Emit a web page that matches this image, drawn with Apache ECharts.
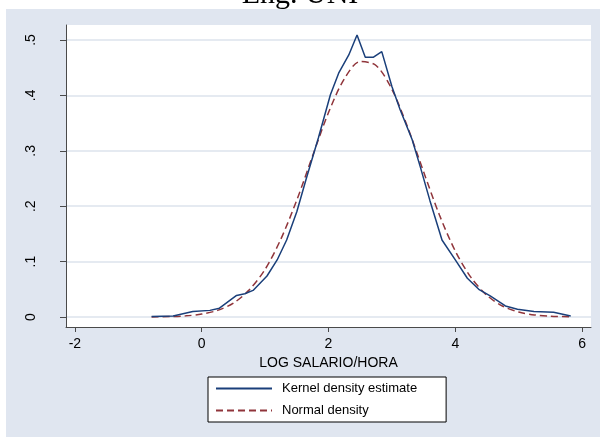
<!DOCTYPE html>
<html>
<head>
<meta charset="utf-8">
<script src="https://cdn.jsdelivr.net/npm/echarts@6/dist/echarts.min.js"></script>
<style>
html,body{margin:0;padding:0;background:#ffffff;}
#bg{position:absolute;left:6px;top:9px;width:594px;height:428px;background:#e0e6f0;}
#chart{position:absolute;left:0;top:0;width:600px;height:437px;}
</style>
</head>
<body>
<div id="bg"></div>
<div id="chart"></div>
<script>
const titleText = 'Eng. UNI';
const xAxisTitle = 'LOG SALARIO/HORA';
const seriesNames = ['Kernel density estimate', 'Normal density'];
const xTicks = [-2, 0, 2, 4, 6];
const yTicks = [0, 0.1, 0.2, 0.3, 0.4, 0.5];

const kernelX = [-0.79, -0.45, -0.14, 0.13, 0.28, 0.55, 0.68, 0.81, 1.03, 1.19, 1.34, 1.50, 1.65, 1.84, 2.03, 2.16, 2.32, 2.45, 2.58, 2.71, 2.84, 3.00, 3.13, 3.32, 3.45, 3.60, 3.79, 4.00, 4.19, 4.37, 4.55, 4.79, 4.98, 5.24, 5.55, 5.82];
const kernelY = [0.001, 0.002, 0.010, 0.012, 0.016, 0.039, 0.042, 0.048, 0.074, 0.103, 0.139, 0.190, 0.250, 0.323, 0.401, 0.440, 0.473, 0.509, 0.469, 0.469, 0.479, 0.416, 0.374, 0.320, 0.270, 0.210, 0.139, 0.103, 0.070, 0.050, 0.038, 0.020, 0.014, 0.010, 0.0085, 0.002];

const normalX = [-0.79, -0.5, -0.25, 0, 0.25, 0.5, 0.75, 1.0, 1.25, 1.5, 1.75, 2.0, 2.25, 2.5, 2.75, 3.0, 3.25, 3.5, 3.75, 4.0, 4.25, 4.5, 4.75, 5.0, 5.25, 5.5, 5.82];
const normalY = [0.0002, 0.0008, 0.0021, 0.0053, 0.012, 0.025, 0.049, 0.086, 0.141, 0.211, 0.291, 0.369, 0.430, 0.461, 0.454, 0.411, 0.342, 0.262, 0.184, 0.119, 0.071, 0.039, 0.0195, 0.009, 0.0038, 0.0015, 0.0004];

const kernelData = kernelX.map((x, i) => [x, kernelY[i]]);
const normalData = normalX.map((x, i) => [x, normalY[i]]);

const chart = echarts.init(document.getElementById('chart'), null, {renderer: 'canvas'});
const axisColor = '#4a4a4a';
const font = '"Liberation Sans", Arial, sans-serif';

chart.setOption({
  backgroundColor: 'transparent',
  animation: false,
  title: {
    text: titleText,
    left: 'center',
    top: -25,
    textStyle: {fontFamily: '"Liberation Serif", "Times New Roman", serif', fontSize: 30, fontWeight: 'normal', color: '#000'}
  },
  grid: {
    left: 66, top: 25, width: 525, height: 302,
    show: true, backgroundColor: '#ffffff', borderWidth: 0
  },
  legend: {
    data: seriesNames,
    orient: 'vertical',
    left: 208, top: 377,
    backgroundColor: '#ffffff',
    borderColor: '#000000',
    borderWidth: 1,
    padding: [5, 29, 5, 7],
    itemWidth: 56,
    itemHeight: 14,
    itemGap: 9,
    itemStyle: {color: 'rgba(0,0,0,0)', borderWidth: 0, borderColor: 'rgba(0,0,0,0)'},
    textStyle: {fontFamily: font, fontSize: 13, color: '#000', padding: [0, 0, 0, 5]}
  },
  xAxis: {
    type: 'value',
    min: -2.14, max: 6.14,
    name: xAxisTitle,
    nameLocation: 'middle',
    nameGap: 24,
    nameTextStyle: {fontFamily: font, fontSize: 14, color: '#000'},
    axisLine: {show: true, onZero: false, lineStyle: {color: axisColor, width: 1}},
    axisTick: {show: true, length: 5, customValues: xTicks, lineStyle: {color: axisColor}},
    axisLabel: {customValues: xTicks, margin: 10, fontFamily: font, fontSize: 14, color: '#000'},
    splitLine: {show: false}
  },
  yAxis: {
    type: 'value',
    min: -0.018, max: 0.527,
    axisLine: {show: true, onZero: false, lineStyle: {color: axisColor, width: 1}},
    axisTick: {show: true, length: 6, customValues: yTicks, lineStyle: {color: axisColor}},
    axisLabel: {
      customValues: yTicks, rotate: 90, margin: 28,
      fontFamily: font, fontSize: 14, color: '#000',
      formatter: v => (Math.abs(v) < 1e-9 ? '0' : ('' + Math.round(v * 10) / 10).replace(/^0\./, '.'))
    },
    splitLine: {show: true, lineStyle: {color: '#dde3ec', width: 1.5}}
  },
  series: [
    {
      name: seriesNames[0], type: 'line', data: kernelData, symbol: 'none',
      lineStyle: {color: '#1a3f7a', width: 1.5}, itemStyle: {color: '#1a3f7a'}, z: 3
    },
    {
      name: seriesNames[1], type: 'line', data: normalData, symbol: 'none', smooth: 0.3,
      lineStyle: {color: '#90353b', width: 1.5, type: [7, 4]}, itemStyle: {color: '#90353b'}, z: 2
    }
  ]
});
</script>
</body>
</html>
